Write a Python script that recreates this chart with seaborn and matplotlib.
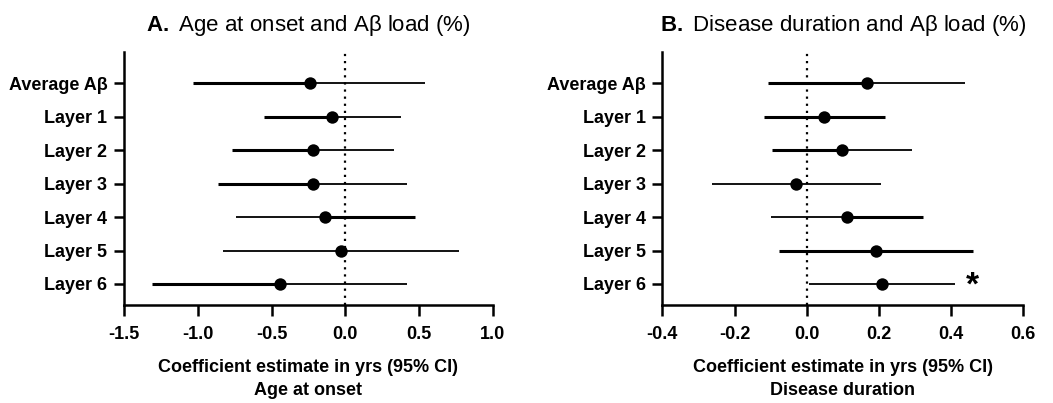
import matplotlib
matplotlib.use("Agg")
import matplotlib.pyplot as plt
import seaborn as sns
import pandas as pd

sns.set_theme(style="ticks")
plt.rcParams["font.family"] = ["Liberation Sans", "DejaVu Sans"]
plt.rcParams["mathtext.fontset"] = "custom"
plt.rcParams["mathtext.bf"] = "Liberation Sans:bold"
for key in ("text.color", "axes.labelcolor", "xtick.color", "ytick.color",
            "xtick.labelcolor", "ytick.labelcolor"):
    plt.rcParams[key] = "black"

rows = ["Average Aβ", "Layer 1", "Layer 2", "Layer 3", "Layer 4", "Layer 5", "Layer 6"]

# A: age at onset
onset_est = [-0.24, -0.09, -0.22, -0.22, -0.14, -0.03, -0.44]
onset_lo = [-1.03, -0.55, -0.77, -0.86, -0.74, -0.83, -1.31]
onset_hi = [0.54, 0.38, 0.33, 0.42, 0.47, 0.77, 0.42]

# B: disease duration
dur_est = [0.168, 0.048, 0.099, -0.029, 0.111, 0.192, 0.208]
dur_lo = [-0.106, -0.118, -0.095, -0.262, -0.099, -0.078, 0.005]
dur_hi = [0.439, 0.216, 0.293, 0.205, 0.322, 0.460, 0.411]

# line weight of each half of the interval (left, right)
onset_lw_left = [2.2, 2.2, 2.2, 2.2, 1.3, 1.3, 2.2]
onset_lw_right = [1.3, 1.3, 1.3, 1.3, 2.2, 1.3, 1.3]
dur_lw_left = [2.2, 2.2, 2.2, 1.3, 1.3, 2.2, 1.3]
dur_lw_right = [1.3, 2.2, 1.3, 1.3, 2.2, 2.2, 1.3]

onset_ticks = [-1.5, -1.0, -0.5, 0.0, 0.5, 1.0]
dur_ticks = [-0.4, -0.2, 0.0, 0.2, 0.4, 0.6]

fig = plt.figure(figsize=(10.53, 4.03), dpi=100)
axA = fig.add_axes([0.1178, 0.2432, 0.3501, 0.6278])
axB = fig.add_axes([0.6290, 0.2432, 0.3428, 0.6278])


def forest(ax, est, lo, hi, lw_l, lw_r, ticks, title_letter, title_text, xlab2):
    df = pd.DataFrame({"row": rows, "pos": range(len(rows)), "est": est, "lo": lo, "hi": hi})
    ax.axvline(0, color="black", lw=1.6, ls=(0, (1, 2.2)), zorder=1)
    for i, r in df.iterrows():
        ax.hlines(r["pos"], r["lo"], r["est"], color="black", lw=lw_l[i], zorder=2)
        ax.hlines(r["pos"], r["est"], r["hi"], color="black", lw=lw_r[i], zorder=2)
    sns.scatterplot(data=df, x="est", y="pos", ax=ax, color="black", s=80,
                    edgecolor="black", linewidth=0, zorder=3, legend=False)
    ax.set_xlim(ticks[0], ticks[-1])
    ax.set_ylim(6.63, -0.94)
    ax.set_yticks(range(len(rows)))
    ax.set_yticklabels(rows)
    ax.set_xticks(ticks)
    ax.set_xticklabels([f"{t:.1f}" for t in ticks])
    for lab in ax.get_xticklabels() + ax.get_yticklabels():
        lab.set_fontweight("bold")
        lab.set_fontsize(13)
    ax.tick_params(axis="both", width=1.8, length=7, color="black", pad=5)
    ax.tick_params(axis="x", length=8, pad=7)
    sns.despine(ax=ax)
    for s in ("left", "bottom"):
        ax.spines[s].set_linewidth(1.8)
        ax.spines[s].set_color("black")
    ax.set_xlabel("Coefficient estimate in yrs (95% CI)\n" + xlab2,
                  fontsize=13, fontweight="bold", labelpad=12, linespacing=1.4)
    ax.set_ylabel("")
    ax.set_title(r"$\bf{" + title_letter + r".}$ " + title_text, fontsize=16, pad=15)


forest(axA, onset_est, onset_lo, onset_hi, onset_lw_left, onset_lw_right, onset_ticks,
       "A", "Age at onset and Aβ load (%)", "Age at onset")
forest(axB, dur_est, dur_lo, dur_hi, dur_lw_left, dur_lw_right, dur_ticks,
       "B", "Disease duration and Aβ load (%)", "Disease duration")

# significance marker for Layer 6
axB.text(0.458, 6.05, "*", fontsize=24, fontweight="bold", ha="center", va="center")

fig.savefig("out.png", dpi=100)
